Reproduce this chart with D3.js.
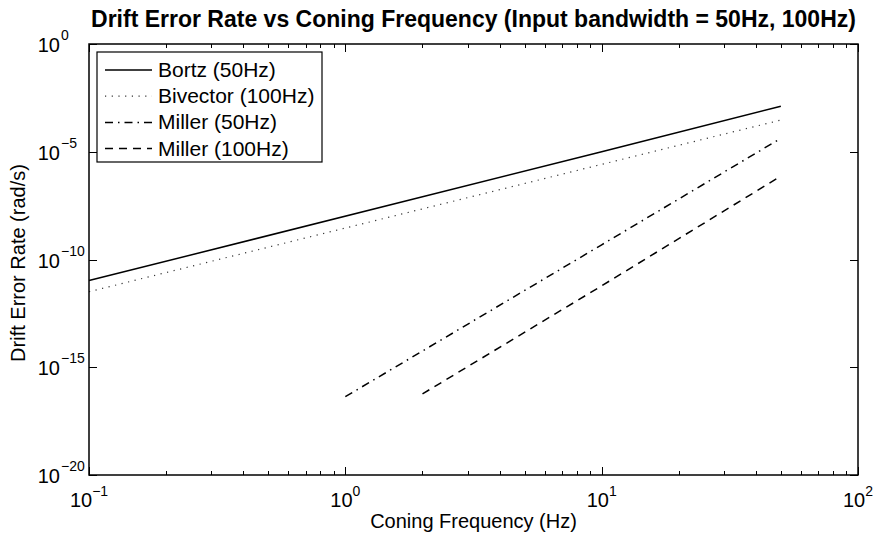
<!DOCTYPE html>
<html>
<head>
<meta charset="utf-8">
<script src="https://cdn.jsdelivr.net/npm/d3@7"></script>
<style>
  body { margin: 0; background: #fff; }
  text { font-family: "Liberation Sans", Arial, Helvetica, sans-serif; fill: #000; }
</style>
</head>
<body>
<div id="chart"></div>
<script>
// Data (straight lines on log-log, endpoints + midpoint)
const bortzFreq = [0.1, 10, 50];
const bortzRate = [1.05e-11, 1.0e-5, 1.29e-3];
const bivectorFreq = [0.1, 10, 50];
const bivectorRate = [3.2e-12, 2.6e-6, 2.95e-4];
const miller50Freq = [1, 10, 50];
const miller50Rate = [4.3e-17, 4.8e-10, 4.2e-5];
const miller100Freq = [2, 10, 50];
const miller100Rate = [5.8e-17, 6.0e-12, 7.4e-7];

const seriesNames = ["Bortz (50Hz)", "Bivector (100Hz)", "Miller (50Hz)", "Miller (100Hz)"];
const xTickValues = [0.1, 1, 10, 100];
const yTickValues = [1, 1e-5, 1e-10, 1e-15, 1e-20];

const W = 876, H = 534;
const margin = { top: 44, right: 18, bottom: 59, left: 89 };
const width = W - margin.left - margin.right,
      height = H - margin.top - margin.bottom;

const svg = d3.select("#chart").append("svg")
    .attr("width", W)
    .attr("height", H);

const g = svg.append("g")
    .attr("transform", `translate(${margin.left},${margin.top})`);

const x = d3.scaleLog().domain([0.1, 100]).range([0, width]);
const y = d3.scaleLog().domain([1e-20, 1]).range([height, 0]);

// minor ticks on x (2..9 per decade)
const xMinor = [];
[0.1, 1, 10].forEach(d => { for (let k = 2; k <= 9; k++) xMinor.push(d * k); });

const tickG = g.append("g").attr("stroke", "#000").attr("stroke-width", 1);
xTickValues.forEach(v => {
    const px = Math.round(x(v)) + 0.5;
    tickG.append("line").attr("x1", px).attr("x2", px).attr("y1", height).attr("y2", height - 8);
    tickG.append("line").attr("x1", px).attr("x2", px).attr("y1", 0).attr("y2", 8);
});
xMinor.forEach(v => {
    const px = Math.round(x(v)) + 0.5;
    tickG.append("line").attr("x1", px).attr("x2", px).attr("y1", height).attr("y2", height - 4);
    tickG.append("line").attr("x1", px).attr("x2", px).attr("y1", 0).attr("y2", 4);
});
yTickValues.forEach(v => {
    const py = Math.round(y(v)) + 0.5;
    tickG.append("line").attr("x1", 0).attr("x2", 8).attr("y1", py).attr("y2", py);
    tickG.append("line").attr("x1", width).attr("x2", width - 8).attr("y1", py).attr("y2", py);
});

function expText(v) {
    const e = Math.round(Math.log10(v));
    return e < 0 ? "\u2212" + (-e) : String(e);
}

// x tick labels: "10" with superscript exponent, centred as a group
xTickValues.forEach(v => {
    const t = g.append("text")
        .attr("x", x(v))
        .attr("y", height + 32)
        .attr("text-anchor", "middle")
        .attr("font-size", 20);
    t.append("tspan").text("10");
    t.append("tspan").attr("dy", -11).attr("font-size", 14).text(expText(v));
});
// y tick labels: "10" right-aligned, exponent after it
yTickValues.forEach(v => {
    const t = g.append("text")
        .attr("x", -29)
        .attr("y", y(v) + 8)
        .attr("text-anchor", "end")
        .attr("font-size", 20);
    t.append("tspan").text("10");
    t.append("tspan").attr("dy", -12).attr("font-size", 14)
        .attr("x", -28).attr("text-anchor", "start")
        .text(expText(v));
});

// data lines
const series = [
    { name: seriesNames[0], freq: bortzFreq, rate: bortzRate, dash: null, width: 1.5, color: "#000" },
    { name: seriesNames[1], freq: bivectorFreq, rate: bivectorRate, dash: "1.2,5.5", width: 1.2, color: "#333" },
    { name: seriesNames[2], freq: miller50Freq, rate: miller50Rate, dash: "8,5,1.5,5", width: 1.5, color: "#000" },
    { name: seriesNames[3], freq: miller100Freq, rate: miller100Rate, dash: "8,6", width: 1.5, color: "#000" }
];

const line = d3.line()
    .x(d => x(d[0]))
    .y(d => y(d[1]));

series.forEach(s => {
    g.append("path")
        .datum(s.freq.map((f, i) => [f, s.rate[i]]))
        .attr("fill", "none")
        .attr("stroke", s.color)
        .attr("stroke-width", s.width)
        .attr("stroke-dasharray", s.dash)
        .attr("d", line);
});

// axes box
g.append("rect")
    .attr("x", 0).attr("y", 0)
    .attr("width", width).attr("height", height)
    .attr("fill", "none")
    .attr("stroke", "#000")
    .attr("stroke-width", 1.5);

// legend
const legend = g.append("g").attr("transform", "translate(8,8)");
legend.append("rect")
    .attr("width", 225).attr("height", 110)
    .attr("fill", "#fff")
    .attr("stroke", "#000")
    .attr("stroke-width", 1.2);
series.forEach((s, i) => {
    const ly = 18 + i * 26.2;
    legend.append("line")
        .attr("x1", 8).attr("x2", 55)
        .attr("y1", ly).attr("y2", ly)
        .attr("stroke", s.color)
        .attr("stroke-width", s.width)
        .attr("stroke-dasharray", s.dash);
    legend.append("text")
        .attr("x", 61).attr("y", ly + 7)
        .attr("font-size", 21)
        .text(s.name);
});

// title and axis labels
svg.append("text")
    .attr("x", margin.left + width / 2)
    .attr("y", 27)
    .attr("text-anchor", "middle")
    .attr("font-size", 23)
    .attr("font-weight", "bold")
    .text("Drift Error Rate vs Coning Frequency (Input bandwidth = 50Hz, 100Hz)");

svg.append("text")
    .attr("x", margin.left + width / 2)
    .attr("y", 528)
    .attr("text-anchor", "middle")
    .attr("font-size", 20)
    .text("Coning Frequency (Hz)");

svg.append("text")
    .attr("transform", `translate(25,${263}) rotate(-90)`)
    .attr("text-anchor", "middle")
    .attr("font-size", 20)
    .text("Drift Error Rate (rad/s)");
</script>
</body>
</html>
